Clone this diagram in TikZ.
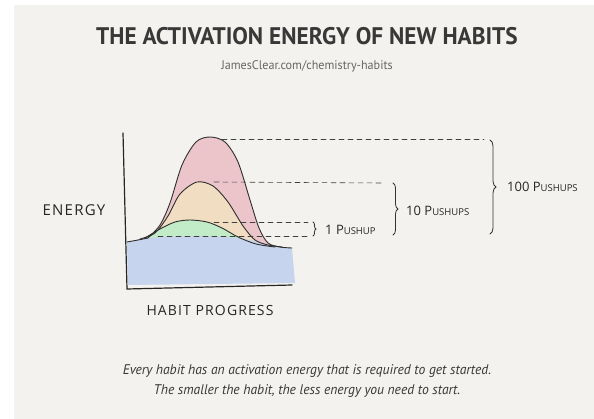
\documentclass[tikz,border=0pt]{standalone}
\usepackage{fontspec}
\usepackage{xcolor}
\usetikzlibrary{decorations.pathreplacing, calc, positioning}

\newfontfamily\titlefont[FakeStretch=0.97]{PT Sans}
\newfontfamily\handfont[LetterSpace=8]{Open Sans}
\newfontfamily\notefont{Open Sans}

\definecolor{paper}{HTML}{F3F2EE}
\definecolor{inkgray}{HTML}{383838}
\definecolor{hillred}{HTML}{ECC5CB}
\definecolor{hillorange}{HTML}{F1DDC1}
\definecolor{hillgreen}{HTML}{C2EBC7}
\definecolor{floorblue}{HTML}{C6D4EE}

\begin{document}
\begin{tikzpicture}[
    x=1pt, y=-1pt,
    line cap=round,
    curve/.style={
      draw=black!82,
      line width=0.9pt
    },
    axis/.style={
      draw=black!85,
      line width=1.2pt
    },
    guide/.style={
      draw=black!75,
      dash pattern=on 5pt off 4pt,
      line width=0.6pt
    },
    curly/.style={
      decorate,
      decoration={brace, amplitude=#1},
      draw=black!80,
      line width=0.8pt
    },
    hand/.style={
      inner sep=1pt,
      text=black!85,
      font=\handfont\fontsize{14}{14}\selectfont
    },
    note/.style={
      inner sep=1pt,
      text=black!85,
      font=\notefont\fontsize{13}{13}\selectfont
    }
]
\useasboundingbox (0,0) rectangle (594,419);
\fill[white] (0,0) rectangle (594,419);
\fill[paper] (14,5) rectangle (594,419);

% 1. HEADINGS
\node[text=inkgray, font=\titlefont\bfseries\fontsize{24}{24}\selectfont] (title) at (307,36) {THE ACTIVATION ENERGY OF NEW HABITS};
\node[text=black!60, font=\titlefont\fontsize{12.5}{12.5}\selectfont, below=9pt of title] (subtitle) {JamesClear.com/chemistry-habits};

% 2. HILLS
\fill[hillred] plot[smooth] coordinates {(148,238) (160,225) (170,203) (182,165) (196,142) (210,137) (225,142) (238,162) (250,200) (259,228) (268,243) (280,247) (292,248)} -- cycle;
\fill[hillorange] plot[smooth] coordinates {(140,239) (155,233) (168,216) (180,194) (197,182) (213,186) (228,202) (243,226) (255,240) (268,245) (282,247)} -- cycle;
\fill[hillgreen] plot[smooth] coordinates {(145,238) (160,229) (175,222) (190,220) (207,222) (222,228) (238,237) (256,244) (275,247)} -- cycle;
\fill[floorblue] plot[smooth] coordinates {(127,242) (150,238) (200,236) (245,239) (268,245) (292,248)} -- (295,283) -- (128,285) -- cycle;

\draw[curve] plot[smooth] coordinates {(127,242) (138,240) (148,238)};
\draw[curve] plot[smooth] coordinates {(148,238) (160,225) (170,203) (182,165) (196,142) (210,137) (225,142) (238,162) (250,200) (259,228) (268,243) (280,247) (292,248)};
\draw[curve] plot[smooth] coordinates {(140,239) (155,233) (168,216) (180,194) (197,182) (213,186) (228,202) (243,226) (255,240) (268,245) (282,247)};
\draw[curve] plot[smooth] coordinates {(145,238) (160,229) (175,222) (190,220) (207,222) (222,228) (238,237) (256,244) (275,247)};

% 3. AXES
\draw[axis] (123,133) -- (127,289) -- (292,285);

% 4. GUIDES AND BRACES
\coordinate (redtop) at (222,139);
\coordinate (redend) at (484,139);
\coordinate (orangetop) at (214,182);
\coordinate (orangeend) at (381,183);
\coordinate (greentop) at (214,222);
\coordinate (greenend) at (308,222);
\coordinate (greenbase) at (158,236);
\coordinate (baseend) at (308,236);

\draw[guide] (redtop) -- (redend);
\draw[guide] (orangetop) -- (orangeend);
\draw[guide] (greentop) -- (greenend);
\draw[guide] (greenbase) -- (baseend);

\draw[curly=3pt] (313,222) -- (313,236);
\draw[curly=5pt] (393,183) -- (393,235);
\draw[curly=6pt] (490,140) -- (490,234);

% 5. LABELS
\node[note, anchor=west] (onelbl) at (324,230) {1 P{\fontsize{9.5}{9.5}\selectfont USHUP}};
\node[note, anchor=west] (tenlbl) at (405,211) {10 P{\fontsize{9.5}{9.5}\selectfont USHUPS}};
\node[note, anchor=west] (hundredlbl) at (506,187) {100 P{\fontsize{9.5}{9.5}\selectfont USHUPS}};
\node[hand, font=\handfont\fontsize{15}{15}\selectfont] (energylbl) at (74,210) {ENERGY};
\node[hand] (progresslbl) at (210,310) {HABIT PROGRESS};

\node[text=inkgray, align=center, font=\titlefont\itshape\fontsize{14}{20}\selectfont] (caption) at (307,381)
    {Every habit has an activation energy that is required to get started.\\
     The smaller the habit, the less energy you need to start.};

\end{tikzpicture}
\end{document}
